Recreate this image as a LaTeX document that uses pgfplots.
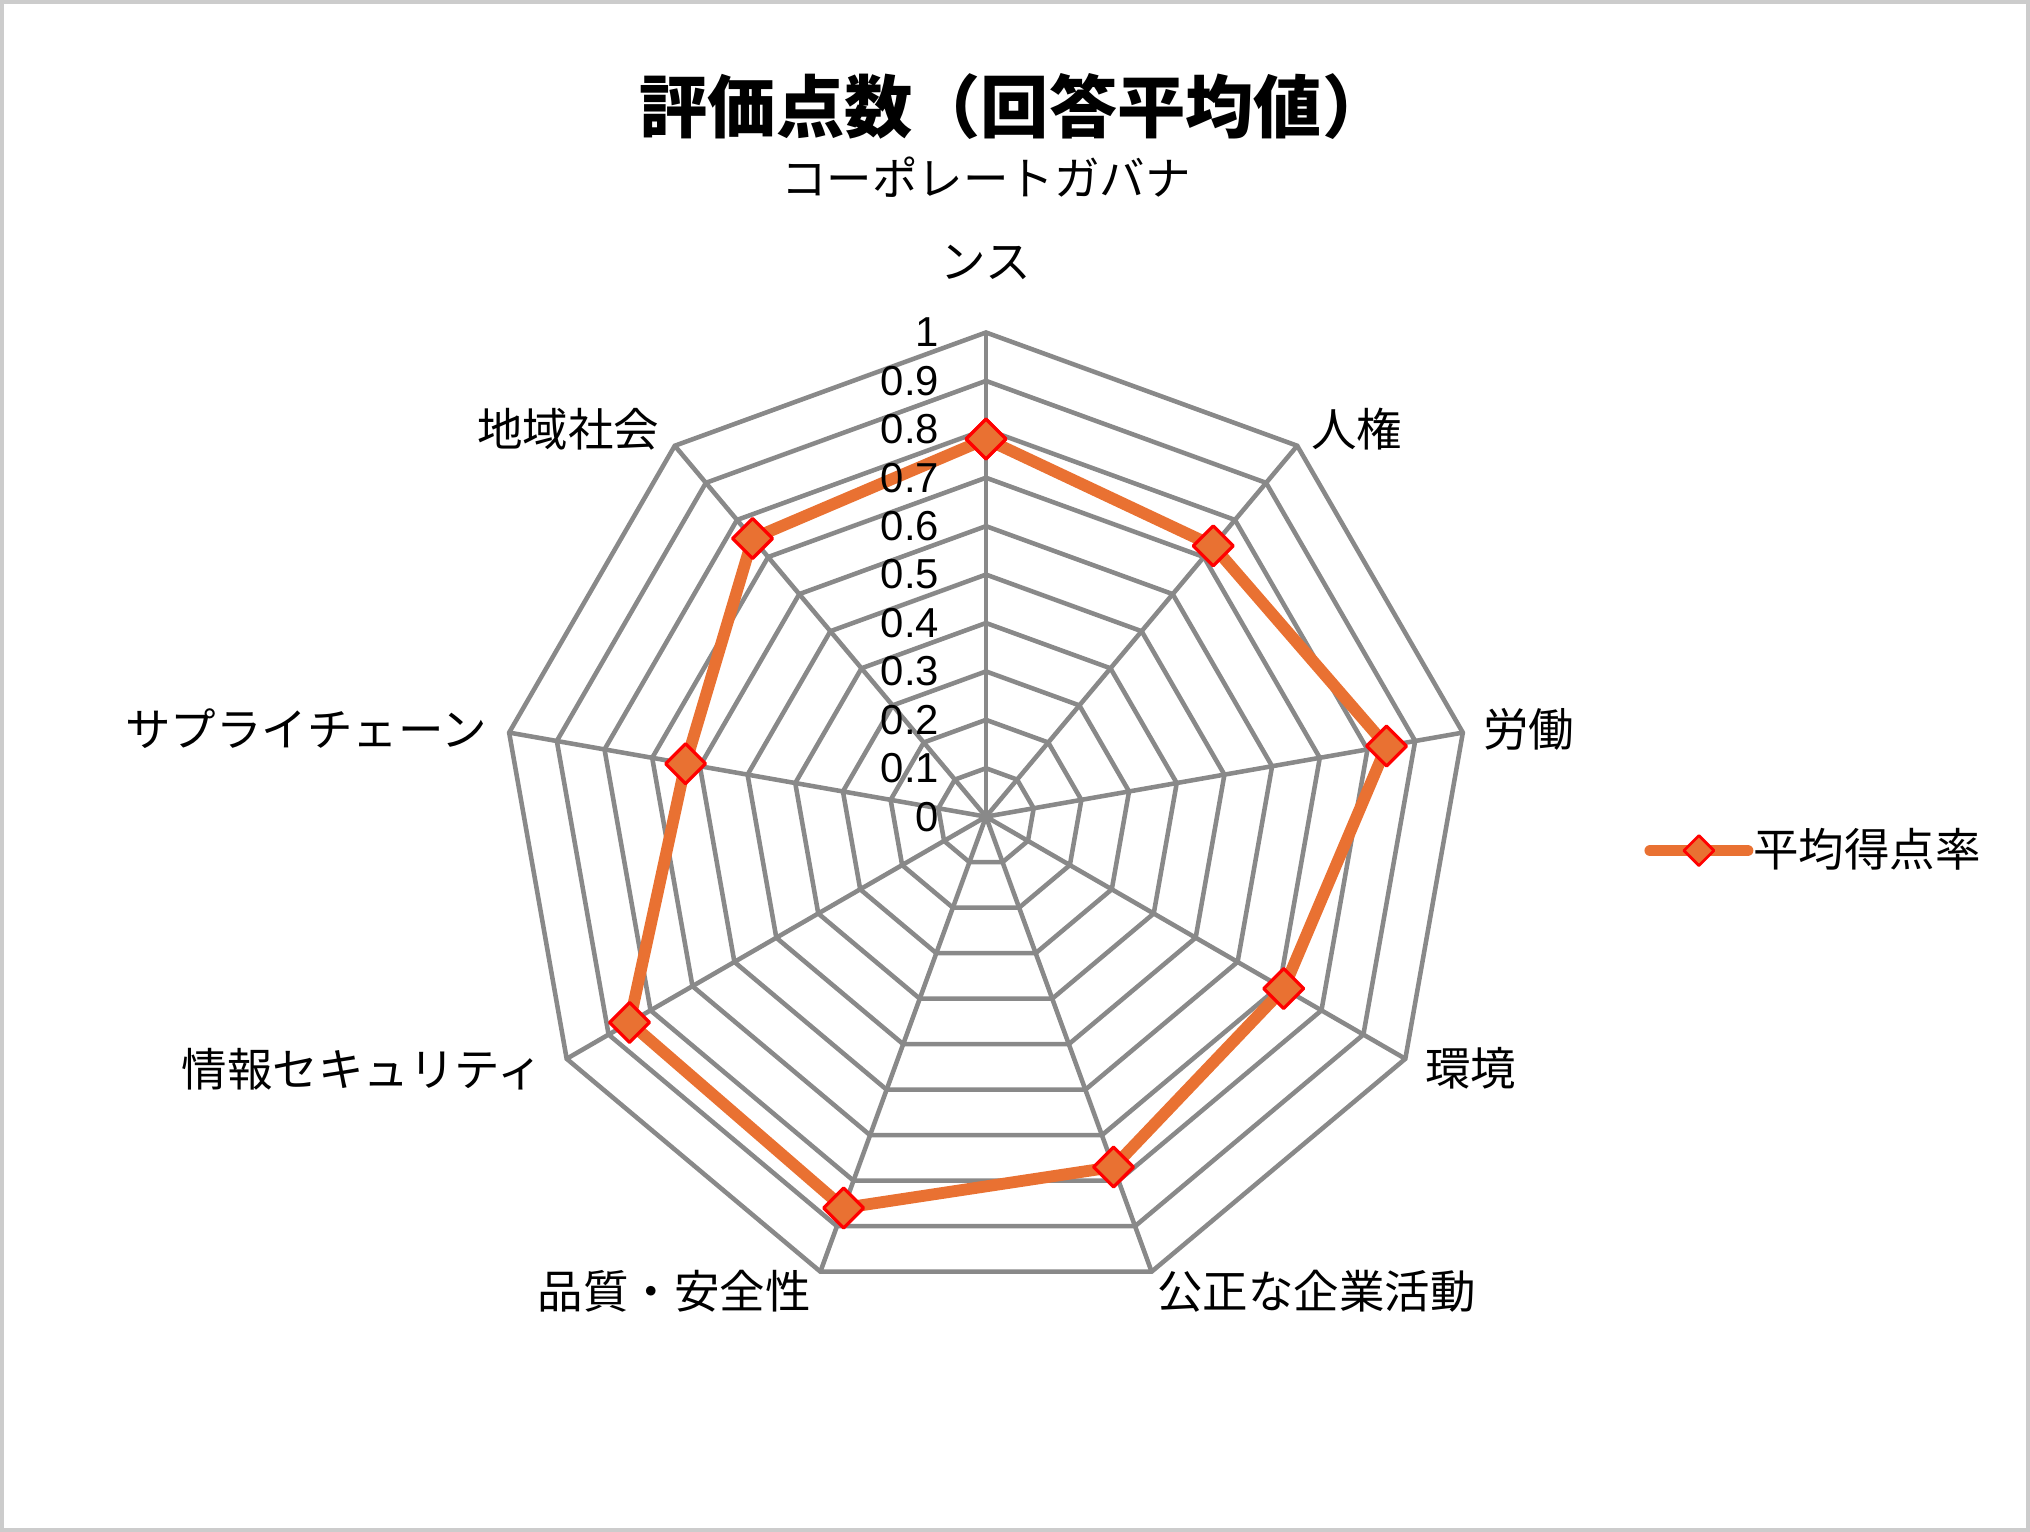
\documentclass[border=0pt]{standalone}
\usepackage{fontspec}
\usepackage{pgfplots}
\pgfplotsset{compat=1.18}
\setmainfont{Noto Sans CJK JP}
\newfontfamily\numfont{Liberation Sans}
\definecolor{serieorange}{HTML}{E97132}
\definecolor{gridgray}{HTML}{898989}
\definecolor{framegray}{HTML}{CCCCCC}

\begin{document}
\begin{tikzpicture}
\path[use as bounding box] (-7.616,-5.522) rectangle (8.064,6.308);
\draw[framegray, line width=0.3mm] (-7.601,-5.507) rectangle (8.049,6.293);

\begin{axis}[
  anchor=origin, at={(0,0)},
  x=3.74cm, y=3.74cm,
  xmin=-1.05, xmax=1.05, ymin=-1.05, ymax=1.05,
  hide axis,
  clip=false,
  legend style={at={(axis cs:1.358,-0.070)}, anchor=west, draw=none, fill=none,
    inner sep=0pt, font=\fontsize{10}{12}\selectfont,
    nodes={inner sep=0pt}},
  legend image code/.code={
    \draw[serieorange, line width=2.6pt, line cap=round] (0cm,0cm) -- (0.75cm,0cm);
    \draw[red, fill=serieorange, line width=0.6pt]
      (0.375cm,0.116cm) -- (0.491cm,0cm) -- (0.375cm,-0.116cm) -- (0.259cm,0cm) -- cycle;
  },
]
% polygon grid
\pgfplotsinvokeforeach{0.1,0.2,0.3,0.4,0.5,0.6,0.7,0.8,0.9,1}{
  \addplot[gridgray, line width=1pt, line join=miter, forget plot, data cs=polar]
    coordinates {(90,#1) (50,#1) (10,#1) (-30,#1) (-70,#1) (-110,#1) (-150,#1) (-190,#1) (-230,#1) (-270,#1) (-310,#1)};
}
% spokes
\pgfplotsinvokeforeach{90,50,10,-30,-70,-110,-150,-190,-230}{
  \addplot[gridgray, line width=1pt, forget plot, data cs=polar]
    coordinates {(0,0) (#1,1)};
}
% data
\addplot[serieorange, line width=2.6pt, line join=round,
  mark=square*, mark size=3.1pt,
  mark options={rotate=45, fill=serieorange, draw=red, line width=0.7pt},
  data cs=polar]
  coordinates {(90,0.78) (50,0.73) (10,0.84) (-30,0.71) (-70,0.77) (-110,0.86) (-150,0.85) (-190,0.63) (-230,0.75) (-270,0.78)};
\addlegendentry{平均得点率}
% tick labels
\pgfplotsinvokeforeach{0,0.1,0.2,0.3,0.4,0.5,0.6,0.7,0.8,0.9,1}{
  \node[anchor=east, inner sep=0pt, font=\numfont\fontsize{9.2}{10}\selectfont]
    at (axis cs:-0.095,#1) {#1};
}
\end{axis}

% title
\node[font=\fontsize{15}{18}\selectfont\bfseries] at (0.224,5.488) {評価点数（回答平均値）};

% category labels
\begin{scope}[every node/.style={inner sep=0pt, font=\fontsize{10}{12}\selectfont}]
\node at (0,4.94) {コーポレートガバナ};
\node at (0,4.28) {ンス};
\node[anchor=west] at (2.504,2.99) {人権};
\node[anchor=west] at (3.834,0.678) {労働};
\node[anchor=west] at (3.384,-1.942) {環境};
\node[anchor=west] at (1.314,-3.662) {公正な企業活動};
\node[anchor=east] at (-1.346,-3.662) {品質・安全性};
\node[anchor=east] at (-3.416,-1.952) {情報セキュリティ};
\node[anchor=east] at (-3.846,0.678) {サプライチェーン};
\node[anchor=east] at (-2.516,2.99) {地域社会};
\end{scope}
\end{tikzpicture}
\end{document}
